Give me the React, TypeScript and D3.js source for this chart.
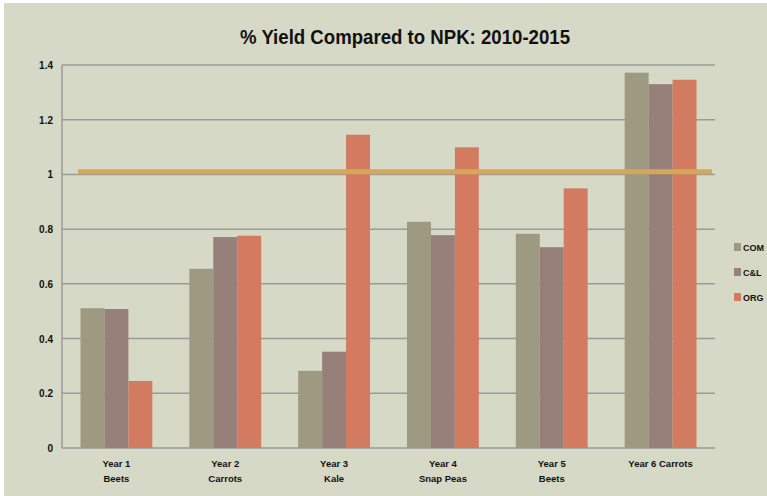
import React from "react";
import * as d3 from "d3";

const years = ["Year 1|Beets", "Year 2|Carrots", "Year 3|Kale", "Year 4|Snap Peas", "Year 5|Beets", "Year 6 Carrots"];
const seriesNames = ["COM", "C&L", "ORG"];
const com = [0.511, 0.655, 0.282, 0.827, 0.783, 1.372];
const cl = [0.508, 0.771, 0.352, 0.778, 0.734, 1.33];
const org = [0.245, 0.776, 1.145, 1.099, 0.949, 1.346];
const yTicks = [0, 0.2, 0.4, 0.6, 0.8, 1, 1.2, 1.4];
const npkLine = 1.01;

const colors = ["#9e9981", "#968079", "#d27b61"];

const App = () => {
  const width = 767;
  const height = 496;
  const left = 62;
  const right = 715;
  const top = 65;
  const bottom = 448;

  const y = d3.scaleLinear().domain([0, 1.4]).range([bottom, top]);
  const x = d3.scaleBand().domain(years).range([left, right]).paddingInner(0.34).paddingOuter(0.17);
  const xs = d3.scaleBand().domain(seriesNames).range([0, x.bandwidth()]);
  const values = [com, cl, org];

  const font = "'Liberation Sans Narrow', 'Liberation Sans', sans-serif";

  return (
    <svg width={width} height={height} style={{ position: "absolute", left: 0, top: 0 }}>
      <rect x={0} y={0} width={width} height={height} fill="#ffffff" />
      <rect x={4} y={3} width={width - 4} height={height - 3} fill="#d6d9c5" />
      <text
        x={405}
        y={44}
        textAnchor="middle"
        fontFamily={font}
        fontWeight="bold"
        fontSize={20}
        fill="#111"
        textLength={330}
        lengthAdjust="spacingAndGlyphs"
      >
        % Yield Compared to NPK: 2010-2015
      </text>

      {yTicks.map((t) => (
        <g key={t}>
          <line x1={left} x2={right} y1={y(t)} y2={y(t)} stroke="#9a9a9a" strokeWidth={1.5} />
          <text x={53} y={y(t) + 4} textAnchor="end" fontFamily={font} fontWeight="bold" fontSize={10} fill="#111">
            {t}
          </text>
        </g>
      ))}
      <line x1={left} x2={left} y1={top} y2={bottom} stroke="#9a9a9a" strokeWidth={1.5} />

      {years.map((yr, i) => (
        <g key={yr} transform={`translate(${x(yr)},0)`}>
          {seriesNames.map((s, j) => (
            <rect
              key={s}
              x={xs(s)}
              y={y(values[j][i])}
              width={xs.bandwidth()}
              height={bottom - y(values[j][i])}
              fill={colors[j]}
            />
          ))}
        </g>
      ))}

      <line x1={78} x2={712} y1={y(npkLine)} y2={y(npkLine)} stroke="#d3a85a" strokeWidth={5} />

      {years.map((yr) => {
        const cx = (x(yr) ?? 0) + x.bandwidth() / 2;
        const lines = yr.split("|");
        return (
          <text key={yr} textAnchor="middle" fontFamily={font} fontWeight="bold" fontSize={9.5} fill="#111">
            {lines.map((l, k) => (
              <tspan key={k} x={cx} y={467 + k * 15}>
                {l}
              </tspan>
            ))}
          </text>
        );
      })}

      {seriesNames.map((s, j) => (
        <g key={s} transform={`translate(734,${243 + j * 25})`}>
          <rect width={7} height={8} fill={colors[j]} />
          <text x={9} y={8} fontFamily={font} fontWeight="bold" fontSize={9} fill="#111">
            {s}
          </text>
        </g>
      ))}
    </svg>
  );
};

export default App;
